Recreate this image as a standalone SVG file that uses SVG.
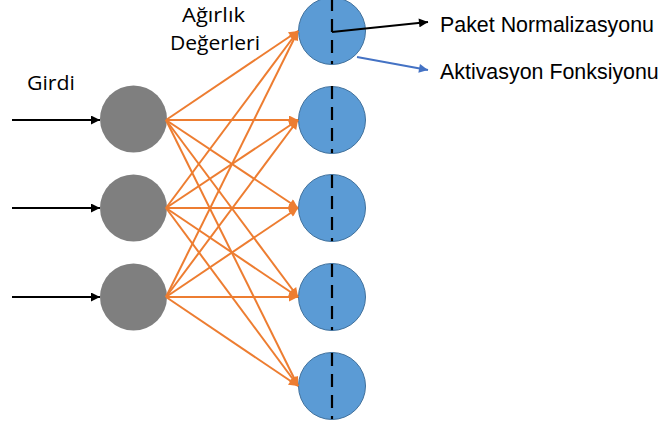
<svg xmlns="http://www.w3.org/2000/svg" width="667" height="430" viewBox="0 0 667 430">
<defs>
<style>
.t{font-family:"Open Sans","Liberation Sans",sans-serif;font-size:20px;fill:#000}
.t2{font-family:"Liberation Sans","Open Sans",sans-serif;font-size:21.4px;fill:#000}
.g{fill:#7F7F7F}
.b{fill:#5B9BD5;stroke:#41719C;stroke-width:1}
.d{stroke:#000;stroke-width:2.2;stroke-dasharray:13 8}
.o{stroke:#ED7D31;stroke-width:2;fill:none}
.k{stroke:#000;stroke-width:2;fill:none}
.bl{stroke:#4472C4;stroke-width:2;fill:none}
</style>
<marker id="ao" viewBox="0 0 10 10" refX="10" refY="5" markerWidth="5" markerHeight="4.5" orient="auto"><path d="M0,0L10,5L0,10z" fill="#ED7D31"/></marker>
<marker id="ak" viewBox="0 0 10 10" refX="10" refY="5" markerWidth="5" markerHeight="4.5" orient="auto"><path d="M0,0L10,5L0,10z" fill="#000"/></marker>
<marker id="ab" viewBox="0 0 10 10" refX="10" refY="5" markerWidth="5" markerHeight="4.5" orient="auto"><path d="M0,0L10,5L0,10z" fill="#4472C4"/></marker>
</defs>
<rect width="667" height="430" fill="#fff"/>
<g id="in1"><circle class="g" cx="133.5" cy="119" r="33.5"/></g>
<g id="in2"><circle class="g" cx="133.5" cy="208" r="33.5"/></g>
<g id="in3"><circle class="g" cx="133.5" cy="297" r="33.5"/></g>
<g id="n1"><circle class="b" cx="332" cy="31" r="33.5"/><line class="d" x1="332" y1="-2" x2="332" y2="64"/></g>
<g id="n2"><circle class="b" cx="332" cy="120" r="33.5"/><line class="d" x1="332" y1="86" x2="332" y2="153"/></g>
<g id="n3"><circle class="b" cx="332" cy="208" r="33.5"/><line class="d" x1="332" y1="175" x2="332" y2="241"/></g>
<g id="n4"><circle class="b" cx="332" cy="297" r="33.5"/><line class="d" x1="332" y1="264" x2="332" y2="330"/></g>
<g id="n5"><circle class="b" cx="332" cy="386" r="33.5"/><line class="d" x1="332" y1="353" x2="332" y2="419"/></g>
<g id="connectors">
<line class="k" x1="12" y1="120" x2="100" y2="120" marker-end="url(#ak)"/>
<line class="k" x1="12" y1="208" x2="100" y2="208" marker-end="url(#ak)"/>
<line class="k" x1="12" y1="297" x2="100" y2="297" marker-end="url(#ak)"/>
<g class="o" marker-end="url(#ao)">
<line x1="166" y1="120" x2="298" y2="31"/>
<line x1="166" y1="120" x2="298" y2="120"/>
<line x1="166" y1="120" x2="298" y2="208"/>
<line x1="166" y1="120" x2="298" y2="297"/>
<line x1="166" y1="120" x2="298" y2="386"/>
<line x1="166" y1="208" x2="298" y2="31"/>
<line x1="166" y1="208" x2="298" y2="120"/>
<line x1="166" y1="208" x2="298" y2="208"/>
<line x1="166" y1="208" x2="298" y2="297"/>
<line x1="166" y1="208" x2="298" y2="386"/>
<line x1="166" y1="297" x2="298" y2="31"/>
<line x1="166" y1="297" x2="298" y2="120"/>
<line x1="166" y1="297" x2="298" y2="208"/>
<line x1="166" y1="297" x2="298" y2="297"/>
<line x1="166" y1="297" x2="298" y2="386"/>
</g>
<line class="k" x1="332" y1="32" x2="428" y2="22" marker-end="url(#ak)"/>
<line class="bl" x1="357" y1="57" x2="428" y2="70" marker-end="url(#ab)"/>
</g>
<g id="labels">
<text class="t" x="27" y="90" textLength="48" lengthAdjust="spacingAndGlyphs">Girdi</text>
<text class="t" x="182" y="22" textLength="63" lengthAdjust="spacingAndGlyphs">Ağırlık</text>
<text class="t" x="170" y="50" textLength="90" lengthAdjust="spacingAndGlyphs">Değerleri</text>
<text class="t2" x="440" y="31.5">Paket Normalizasyonu</text>
<text class="t2" x="440" y="79">Aktivasyon Fonksiyonu</text>
</g>
</svg>
